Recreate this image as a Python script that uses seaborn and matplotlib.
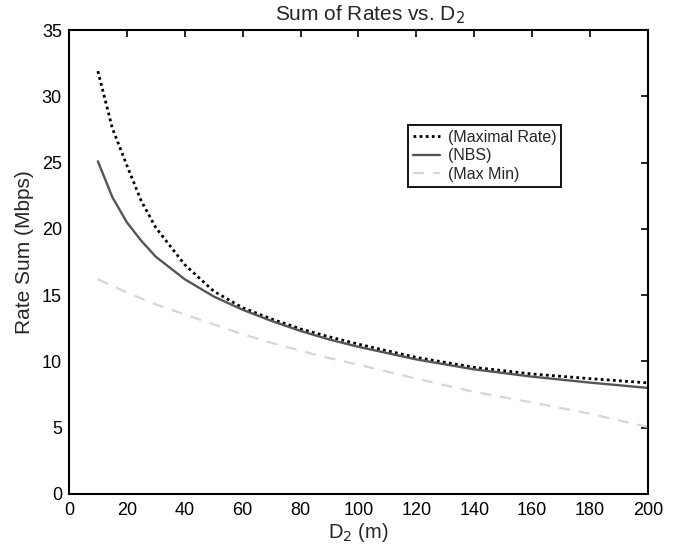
import matplotlib
matplotlib.use("Agg")
import matplotlib.pyplot as plt
import seaborn as sns
import pandas as pd

# distances D2 (m)
d2 = [10, 15, 20, 25, 30, 40, 50, 60, 70, 80, 90, 100, 120, 140, 160, 180, 200]
# rate sums (Mbps)
maximal_rate = [31.9, 27.6, 24.8, 22.1, 20.1, 17.3, 15.3, 14.05, 13.2, 12.45, 11.85, 11.3, 10.3, 9.55, 9.05, 8.7, 8.38]
nbs = [25.1, 22.4, 20.5, 19.1, 17.9, 16.2, 14.9, 13.9, 13.05, 12.3, 11.65, 11.1, 10.15, 9.4, 8.85, 8.4, 8.0]
max_min = [16.2, 15.7, 15.2, 14.75, 14.3, 13.55, 12.8, 12.05, 11.4, 10.8, 10.25, 9.75, 8.7, 7.7, 6.9, 6.05, 5.05]

series = ["(Maximal Rate)", "(NBS)", "(Max Min)"]
colors = ["#000000", "#555555", "#d6d6d6"]
styles = [(0, (1, 1.2)), "-", (0, (5, 4))]

df = pd.DataFrame({
    "D2": d2 * 3,
    "rate": maximal_rate + nbs + max_min,
    "scheme": [series[0]] * len(d2) + [series[1]] * len(d2) + [series[2]] * len(d2),
})

sns.set_style("white")
plt.rcParams["font.family"] = ["Liberation Sans", "DejaVu Sans"]

fig = plt.figure(figsize=(6.89, 5.47), dpi=100)
ax = fig.add_axes([0.1, 0.097, 0.8405, 0.848])

for name, c, ls, lw in zip(series, colors, styles, [2.0, 1.7, 1.6]):
    sub = df[df["scheme"] == name]
    sns.lineplot(data=sub, x="D2", y="rate", ax=ax, color=c, linestyle=ls,
                 linewidth=lw, label=name)

ax.set_xlim(0, 200)
ax.set_ylim(0, 35)
ax.set_xticks(range(0, 201, 20))
ax.set_yticks(range(0, 36, 5))
ax.tick_params(direction="in", top=True, right=True, length=5, width=1.2,
               labelsize=13, colors="black")
ax.tick_params(axis="x", pad=6)
ax.tick_params(axis="y", pad=5)
for s in ax.spines.values():
    s.set_visible(True)
    s.set_linewidth(1.5)
    s.set_color("black")

ax.set_xlabel("D$_2$ (m)", fontsize=14.5, labelpad=1)
ax.set_ylabel("Rate Sum (Mbps)", fontsize=15)
ax.yaxis.set_label_coords(-0.06, 0.522)
ax.set_title("Sum of Rates vs. D$_2$", fontsize=15, pad=7, x=0.519)

leg = ax.legend(loc="upper left", bbox_to_anchor=(0.5855, 0.795), fontsize=11.5,
                handlelength=1.7, handletextpad=0.5, labelspacing=0.22,
                borderpad=0.3, borderaxespad=0, fancybox=False, frameon=True,
                framealpha=1)
leg.get_frame().set_edgecolor("black")
leg.get_frame().set_linewidth(1.3)

fig.savefig("out.png", dpi=100)
